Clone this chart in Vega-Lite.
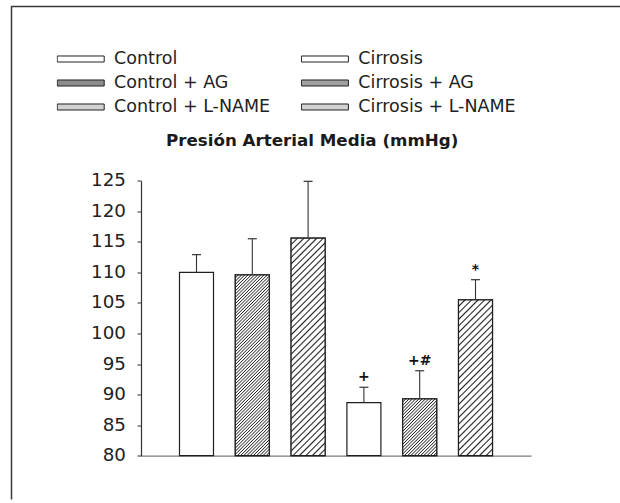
{
  "$schema": "https://vega.github.io/schema/vega-lite/v6.json",
  "autosize": {"type": "none"},
  "padding": {"left": 11.5, "top": 6.5, "right": 0, "bottom": 0},
  "width": 608.5,
  "height": 493,
  "background": "white",
  "title": {
    "text": "Presión Arterial Media (mmHg)",
    "anchor": "start",
    "frame": "group",
    "dx": 154.5,
    "offset": -156,
    "baseline": "alphabetic",
    "font": "DejaVu Sans",
    "fontSize": 16.7,
    "fontWeight": "bold",
    "color": "#1a1a1a"
  },
  "config": {
    "view": {"stroke": "#3a3a3a", "strokeWidth": 1.5, "strokeDash": [608.5, 1101.5, 493, 10]},
    "font": "DejaVu Sans"
  },
  "data": {
    "values": [
      {"grupo": "Control", "media": 110.0, "superior": 112.9, "sig": ""},
      {"grupo": "Control + AG", "media": 109.6, "superior": 115.5, "sig": ""},
      {"grupo": "Control + L-NAME", "media": 115.6, "superior": 124.9, "sig": ""},
      {"grupo": "Cirrosis", "media": 88.7, "superior": 91.2, "sig": "+"},
      {"grupo": "Cirrosis + AG", "media": 89.3, "superior": 93.9, "sig": "+#"},
      {"grupo": "Cirrosis + L-NAME", "media": 105.5, "superior": 108.8, "sig": "*"}
    ]
  },
  "encoding": {
    "x": {
      "field": "grupo",
      "type": "nominal",
      "sort": ["Control", "Control + AG", "Control + L-NAME", "Cirrosis", "Cirrosis + AG", "Cirrosis + L-NAME"],
      "scale": {"range": [129.5, 519.5], "paddingInner": 0.3907, "paddingOuter": 0.69, "align": 0.5},
      "axis": {
        "orient": "bottom",
        "offset": -43.8,
        "title": null,
        "labels": false,
        "ticks": false,
        "grid": false,
        "domainColor": "#7a7a7a",
        "domainWidth": 1.2
      }
    }
  },
  "layer": [
    {
      "mark": {"type": "bar", "stroke": "#1f1f1f", "strokeWidth": 1.2},
      "encoding": {
        "y": {
          "field": "media",
          "type": "quantitative",
          "scale": {"domain": [80, 125], "range": [449.2, 174.2], "nice": false, "zero": false},
          "axis": {
            "orient": "left",
            "offset": -129.5,
            "title": null,
            "grid": false,
            "values": [80, 85, 90, 95, 100, 105, 110, 115, 120, 125],
            "domainColor": "#333333",
            "domainWidth": 1.2,
            "tickColor": "#333333",
            "tickSize": 4,
            "tickWidth": 1,
            "labelFont": "DejaVu Sans",
            "labelFontSize": 18.3,
            "labelColor": "#222222",
            "labelPadding": 11.5
          }
        },
        "y2": {"datum": 80},
        "fill": {
          "field": "grupo",
          "type": "nominal",
          "scale": {
            "domain": ["Control", "Control + AG", "Control + L-NAME", "Cirrosis", "Cirrosis + AG", "Cirrosis + L-NAME"],
            "range": ["#ffffff", "#8c8c8c", "#d2d2d2", "#ffffff", "#a0a0a0", "#d2d2d2"]
          },
          "legend": {
            "orient": "none",
            "legendX": 45.2,
            "legendY": 40.5,
            "columns": 2,
            "title": null,
            "symbolType": "M-1,-0.128L1,-0.128L1,0.128L-1,0.128Z",
            "symbolSize": 2209,
            "symbolStrokeColor": "#222222",
            "symbolStrokeWidth": 1,
            "symbolOpacity": 1,
            "labelFont": "DejaVu Sans",
            "labelFontSize": 17.5,
            "labelColor": "#222222",
            "labelOffset": 9.4,
            "labelLimit": 400,
            "columnPadding": 30.2,
            "rowPadding": 0,
            "clipHeight": 24,
            "padding": 0,
            "encode": {
              "symbols": {
                "update": {
                  "opacity": {"value": 1},
                  "fillOpacity": {"value": 1},
                  "strokeOpacity": {"value": 1},
                  "stroke": {"value": "#222222"},
                  "strokeWidth": {"value": 1}
                }
              }
            }
          }
        }
      }
    },
    {
      "transform": [{"filter": "datum.grupo === 'Control + AG'"}],
      "mark": {"type": "bar", "stroke": "#1f1f1f", "strokeWidth": 1.2,
        "fill": {"gradient": "linear", "x1": 0, "y1": 0, "x2": 0.2157, "y2": 1.1474, "stops": [
          {"offset":0,"color":"#222"},{"offset":0.005,"color":"#fff"},
          {"offset":0.0099,"color":"#fff"},{"offset":0.0149,"color":"#222"},{"offset":0.0199,"color":"#fff"},
          {"offset":0.0249,"color":"#fff"},{"offset":0.0299,"color":"#222"},{"offset":0.0349,"color":"#fff"},
          {"offset":0.0398,"color":"#fff"},{"offset":0.0448,"color":"#222"},{"offset":0.0498,"color":"#fff"},
          {"offset":0.0547,"color":"#fff"},{"offset":0.0597,"color":"#222"},{"offset":0.0647,"color":"#fff"},
          {"offset":0.0696,"color":"#fff"},{"offset":0.0746,"color":"#222"},{"offset":0.0796,"color":"#fff"},
          {"offset":0.0846,"color":"#fff"},{"offset":0.0896,"color":"#222"},{"offset":0.0946,"color":"#fff"},
          {"offset":0.0995,"color":"#fff"},{"offset":0.1045,"color":"#222"},{"offset":0.1095,"color":"#fff"},
          {"offset":0.1144,"color":"#fff"},{"offset":0.1194,"color":"#222"},{"offset":0.1244,"color":"#fff"},
          {"offset":0.1293,"color":"#fff"},{"offset":0.1343,"color":"#222"},{"offset":0.1393,"color":"#fff"},
          {"offset":0.1443,"color":"#fff"},{"offset":0.1493,"color":"#222"},{"offset":0.1543,"color":"#fff"},
          {"offset":0.1592,"color":"#fff"},{"offset":0.1642,"color":"#222"},{"offset":0.1692,"color":"#fff"},
          {"offset":0.1741,"color":"#fff"},{"offset":0.1791,"color":"#222"},{"offset":0.1841,"color":"#fff"},
          {"offset":0.1890,"color":"#fff"},{"offset":0.1940,"color":"#222"},{"offset":0.1990,"color":"#fff"},
          {"offset":0.2040,"color":"#fff"},{"offset":0.2090,"color":"#222"},{"offset":0.2140,"color":"#fff"},
          {"offset":0.2189,"color":"#fff"},{"offset":0.2239,"color":"#222"},{"offset":0.2289,"color":"#fff"},
          {"offset":0.2338,"color":"#fff"},{"offset":0.2388,"color":"#222"},{"offset":0.2438,"color":"#fff"},
          {"offset":0.2487,"color":"#fff"},{"offset":0.2537,"color":"#222"},{"offset":0.2587,"color":"#fff"},
          {"offset":0.2637,"color":"#fff"},{"offset":0.2687,"color":"#222"},{"offset":0.2737,"color":"#fff"},
          {"offset":0.2786,"color":"#fff"},{"offset":0.2836,"color":"#222"},{"offset":0.2886,"color":"#fff"},
          {"offset":0.2935,"color":"#fff"},{"offset":0.2985,"color":"#222"},{"offset":0.3035,"color":"#fff"},
          {"offset":0.3084,"color":"#fff"},{"offset":0.3134,"color":"#222"},{"offset":0.3184,"color":"#fff"},
          {"offset":0.3234,"color":"#fff"},{"offset":0.3284,"color":"#222"},{"offset":0.3334,"color":"#fff"},
          {"offset":0.3383,"color":"#fff"},{"offset":0.3433,"color":"#222"},{"offset":0.3483,"color":"#fff"},
          {"offset":0.3532,"color":"#fff"},{"offset":0.3582,"color":"#222"},{"offset":0.3632,"color":"#fff"},
          {"offset":0.3681,"color":"#fff"},{"offset":0.3731,"color":"#222"},{"offset":0.3781,"color":"#fff"},
          {"offset":0.3831,"color":"#fff"},{"offset":0.3881,"color":"#222"},{"offset":0.3931,"color":"#fff"},
          {"offset":0.3980,"color":"#fff"},{"offset":0.4030,"color":"#222"},{"offset":0.4080,"color":"#fff"},
          {"offset":0.4129,"color":"#fff"},{"offset":0.4179,"color":"#222"},{"offset":0.4229,"color":"#fff"},
          {"offset":0.4278,"color":"#fff"},{"offset":0.4328,"color":"#222"},{"offset":0.4378,"color":"#fff"},
          {"offset":0.4428,"color":"#fff"},{"offset":0.4478,"color":"#222"},{"offset":0.4528,"color":"#fff"},
          {"offset":0.4577,"color":"#fff"},{"offset":0.4627,"color":"#222"},{"offset":0.4677,"color":"#fff"},
          {"offset":0.4726,"color":"#fff"},{"offset":0.4776,"color":"#222"},{"offset":0.4826,"color":"#fff"},
          {"offset":0.4875,"color":"#fff"},{"offset":0.4925,"color":"#222"},{"offset":0.4975,"color":"#fff"},
          {"offset":0.5025,"color":"#fff"},{"offset":0.5075,"color":"#222"},{"offset":0.5125,"color":"#fff"},
          {"offset":0.5174,"color":"#fff"},{"offset":0.5224,"color":"#222"},{"offset":0.5274,"color":"#fff"},
          {"offset":0.5323,"color":"#fff"},{"offset":0.5373,"color":"#222"},{"offset":0.5423,"color":"#fff"},
          {"offset":0.5472,"color":"#fff"},{"offset":0.5522,"color":"#222"},{"offset":0.5572,"color":"#fff"},
          {"offset":0.5622,"color":"#fff"},{"offset":0.5672,"color":"#222"},{"offset":0.5722,"color":"#fff"},
          {"offset":0.5771,"color":"#fff"},{"offset":0.5821,"color":"#222"},{"offset":0.5871,"color":"#fff"},
          {"offset":0.5920,"color":"#fff"},{"offset":0.5970,"color":"#222"},{"offset":0.6020,"color":"#fff"},
          {"offset":0.6069,"color":"#fff"},{"offset":0.6119,"color":"#222"},{"offset":0.6169,"color":"#fff"},
          {"offset":0.6219,"color":"#fff"},{"offset":0.6269,"color":"#222"},{"offset":0.6319,"color":"#fff"},
          {"offset":0.6368,"color":"#fff"},{"offset":0.6418,"color":"#222"},{"offset":0.6468,"color":"#fff"},
          {"offset":0.6517,"color":"#fff"},{"offset":0.6567,"color":"#222"},{"offset":0.6617,"color":"#fff"},
          {"offset":0.6666,"color":"#fff"},{"offset":0.6716,"color":"#222"},{"offset":0.6766,"color":"#fff"},
          {"offset":0.6816,"color":"#fff"},{"offset":0.6866,"color":"#222"},{"offset":0.6916,"color":"#fff"},
          {"offset":0.6965,"color":"#fff"},{"offset":0.7015,"color":"#222"},{"offset":0.7065,"color":"#fff"},
          {"offset":0.7114,"color":"#fff"},{"offset":0.7164,"color":"#222"},{"offset":0.7214,"color":"#fff"},
          {"offset":0.7263,"color":"#fff"},{"offset":0.7313,"color":"#222"},{"offset":0.7363,"color":"#fff"},
          {"offset":0.7413,"color":"#fff"},{"offset":0.7463,"color":"#222"},{"offset":0.7513,"color":"#fff"},
          {"offset":0.7562,"color":"#fff"},{"offset":0.7612,"color":"#222"},{"offset":0.7662,"color":"#fff"},
          {"offset":0.7711,"color":"#fff"},{"offset":0.7761,"color":"#222"},{"offset":0.7811,"color":"#fff"},
          {"offset":0.7860,"color":"#fff"},{"offset":0.7910,"color":"#222"},{"offset":0.7960,"color":"#fff"},
          {"offset":0.8010,"color":"#fff"},{"offset":0.8060,"color":"#222"},{"offset":0.8110,"color":"#fff"},
          {"offset":0.8159,"color":"#fff"},{"offset":0.8209,"color":"#222"},{"offset":0.8259,"color":"#fff"},
          {"offset":0.8308,"color":"#fff"},{"offset":0.8358,"color":"#222"},{"offset":0.8408,"color":"#fff"},
          {"offset":0.8457,"color":"#fff"},{"offset":0.8507,"color":"#222"},{"offset":0.8557,"color":"#fff"},
          {"offset":0.8607,"color":"#fff"},{"offset":0.8657,"color":"#222"},{"offset":0.8707,"color":"#fff"},
          {"offset":0.8756,"color":"#fff"},{"offset":0.8806,"color":"#222"},{"offset":0.8856,"color":"#fff"},
          {"offset":0.8905,"color":"#fff"},{"offset":0.8955,"color":"#222"},{"offset":0.9005,"color":"#fff"},
          {"offset":0.9054,"color":"#fff"},{"offset":0.9104,"color":"#222"},{"offset":0.9154,"color":"#fff"},
          {"offset":0.9204,"color":"#fff"},{"offset":0.9254,"color":"#222"},{"offset":0.9304,"color":"#fff"},
          {"offset":0.9353,"color":"#fff"},{"offset":0.9403,"color":"#222"},{"offset":0.9453,"color":"#fff"},
          {"offset":0.9502,"color":"#fff"},{"offset":0.9552,"color":"#222"},{"offset":0.9602,"color":"#fff"},
          {"offset":0.9651,"color":"#fff"},{"offset":0.9701,"color":"#222"},{"offset":0.9751,"color":"#fff"},
          {"offset":0.9801,"color":"#fff"},{"offset":0.9851,"color":"#222"},{"offset":0.9901,"color":"#fff"},
          {"offset":0.995,"color":"#fff"},{"offset":1,"color":"#222"}
        ]}},
      "encoding": {
        "y": {"field": "media", "type": "quantitative"},
        "y2": {"datum": 80}
      }
    },
    {
      "transform": [{"filter": "datum.grupo === 'Control + L-NAME'"}],
      "mark": {"type": "bar", "stroke": "#1f1f1f", "strokeWidth": 1.2,
        "fill": {"gradient": "linear", "x1": 0, "y1": 0, "x2": 0.1764, "y2": 1.1287, "stops": [
          {"offset":0,"color":"#222"},{"offset":0.006,"color":"#fff"},
          {"offset":0.0196,"color":"#fff"},{"offset":0.0256,"color":"#222"},{"offset":0.0316,"color":"#fff"},
          {"offset":0.0453,"color":"#fff"},{"offset":0.0513,"color":"#222"},{"offset":0.0573,"color":"#fff"},
          {"offset":0.0709,"color":"#fff"},{"offset":0.0769,"color":"#222"},{"offset":0.0829,"color":"#fff"},
          {"offset":0.0966,"color":"#fff"},{"offset":0.1026,"color":"#222"},{"offset":0.1086,"color":"#fff"},
          {"offset":0.1222,"color":"#fff"},{"offset":0.1282,"color":"#222"},{"offset":0.1342,"color":"#fff"},
          {"offset":0.1478,"color":"#fff"},{"offset":0.1538,"color":"#222"},{"offset":0.1598,"color":"#fff"},
          {"offset":0.1735,"color":"#fff"},{"offset":0.1795,"color":"#222"},{"offset":0.1855,"color":"#fff"},
          {"offset":0.1991,"color":"#fff"},{"offset":0.2051,"color":"#222"},{"offset":0.2111,"color":"#fff"},
          {"offset":0.2248,"color":"#fff"},{"offset":0.2308,"color":"#222"},{"offset":0.2368,"color":"#fff"},
          {"offset":0.2504,"color":"#fff"},{"offset":0.2564,"color":"#222"},{"offset":0.2624,"color":"#fff"},
          {"offset":0.2761,"color":"#fff"},{"offset":0.2821,"color":"#222"},{"offset":0.2881,"color":"#fff"},
          {"offset":0.3017,"color":"#fff"},{"offset":0.3077,"color":"#222"},{"offset":0.3137,"color":"#fff"},
          {"offset":0.3273,"color":"#fff"},{"offset":0.3333,"color":"#222"},{"offset":0.3393,"color":"#fff"},
          {"offset":0.3530,"color":"#fff"},{"offset":0.3590,"color":"#222"},{"offset":0.3650,"color":"#fff"},
          {"offset":0.3786,"color":"#fff"},{"offset":0.3846,"color":"#222"},{"offset":0.3906,"color":"#fff"},
          {"offset":0.4043,"color":"#fff"},{"offset":0.4103,"color":"#222"},{"offset":0.4163,"color":"#fff"},
          {"offset":0.4299,"color":"#fff"},{"offset":0.4359,"color":"#222"},{"offset":0.4419,"color":"#fff"},
          {"offset":0.4555,"color":"#fff"},{"offset":0.4615,"color":"#222"},{"offset":0.4675,"color":"#fff"},
          {"offset":0.4812,"color":"#fff"},{"offset":0.4872,"color":"#222"},{"offset":0.4932,"color":"#fff"},
          {"offset":0.5068,"color":"#fff"},{"offset":0.5128,"color":"#222"},{"offset":0.5188,"color":"#fff"},
          {"offset":0.5325,"color":"#fff"},{"offset":0.5385,"color":"#222"},{"offset":0.5445,"color":"#fff"},
          {"offset":0.5581,"color":"#fff"},{"offset":0.5641,"color":"#222"},{"offset":0.5701,"color":"#fff"},
          {"offset":0.5837,"color":"#fff"},{"offset":0.5897,"color":"#222"},{"offset":0.5957,"color":"#fff"},
          {"offset":0.6094,"color":"#fff"},{"offset":0.6154,"color":"#222"},{"offset":0.6214,"color":"#fff"},
          {"offset":0.6350,"color":"#fff"},{"offset":0.6410,"color":"#222"},{"offset":0.6470,"color":"#fff"},
          {"offset":0.6607,"color":"#fff"},{"offset":0.6667,"color":"#222"},{"offset":0.6727,"color":"#fff"},
          {"offset":0.6863,"color":"#fff"},{"offset":0.6923,"color":"#222"},{"offset":0.6983,"color":"#fff"},
          {"offset":0.7119,"color":"#fff"},{"offset":0.7179,"color":"#222"},{"offset":0.7239,"color":"#fff"},
          {"offset":0.7376,"color":"#fff"},{"offset":0.7436,"color":"#222"},{"offset":0.7496,"color":"#fff"},
          {"offset":0.7632,"color":"#fff"},{"offset":0.7692,"color":"#222"},{"offset":0.7752,"color":"#fff"},
          {"offset":0.7889,"color":"#fff"},{"offset":0.7949,"color":"#222"},{"offset":0.8009,"color":"#fff"},
          {"offset":0.8145,"color":"#fff"},{"offset":0.8205,"color":"#222"},{"offset":0.8265,"color":"#fff"},
          {"offset":0.8402,"color":"#fff"},{"offset":0.8462,"color":"#222"},{"offset":0.8522,"color":"#fff"},
          {"offset":0.8658,"color":"#fff"},{"offset":0.8718,"color":"#222"},{"offset":0.8778,"color":"#fff"},
          {"offset":0.8914,"color":"#fff"},{"offset":0.8974,"color":"#222"},{"offset":0.9034,"color":"#fff"},
          {"offset":0.9171,"color":"#fff"},{"offset":0.9231,"color":"#222"},{"offset":0.9291,"color":"#fff"},
          {"offset":0.9427,"color":"#fff"},{"offset":0.9487,"color":"#222"},{"offset":0.9547,"color":"#fff"},
          {"offset":0.9684,"color":"#fff"},{"offset":0.9744,"color":"#222"},{"offset":0.9804,"color":"#fff"},
          {"offset":0.994,"color":"#fff"},{"offset":1,"color":"#222"}
        ]}},
      "encoding": {
        "y": {"field": "media", "type": "quantitative"},
        "y2": {"datum": 80}
      }
    },
    {
      "transform": [{"filter": "datum.grupo === 'Cirrosis + AG'"}],
      "mark": {"type": "bar", "stroke": "#1f1f1f", "strokeWidth": 1.2,
        "fill": {"gradient": "linear", "x1": 0, "y1": 0, "x2": 0.7041, "y2": 1.1769, "stops": [
          {"offset":0,"color":"#222"},{"offset":0.012,"color":"#fff"},
          {"offset":0.0237,"color":"#fff"},{"offset":0.0357,"color":"#222"},{"offset":0.0477,"color":"#fff"},
          {"offset":0.0594,"color":"#fff"},{"offset":0.0714,"color":"#222"},{"offset":0.0834,"color":"#fff"},
          {"offset":0.0951,"color":"#fff"},{"offset":0.1071,"color":"#222"},{"offset":0.1191,"color":"#fff"},
          {"offset":0.1309,"color":"#fff"},{"offset":0.1429,"color":"#222"},{"offset":0.1549,"color":"#fff"},
          {"offset":0.1666,"color":"#fff"},{"offset":0.1786,"color":"#222"},{"offset":0.1906,"color":"#fff"},
          {"offset":0.2023,"color":"#fff"},{"offset":0.2143,"color":"#222"},{"offset":0.2263,"color":"#fff"},
          {"offset":0.2380,"color":"#fff"},{"offset":0.2500,"color":"#222"},{"offset":0.2620,"color":"#fff"},
          {"offset":0.2737,"color":"#fff"},{"offset":0.2857,"color":"#222"},{"offset":0.2977,"color":"#fff"},
          {"offset":0.3094,"color":"#fff"},{"offset":0.3214,"color":"#222"},{"offset":0.3334,"color":"#fff"},
          {"offset":0.3451,"color":"#fff"},{"offset":0.3571,"color":"#222"},{"offset":0.3691,"color":"#fff"},
          {"offset":0.3809,"color":"#fff"},{"offset":0.3929,"color":"#222"},{"offset":0.4049,"color":"#fff"},
          {"offset":0.4166,"color":"#fff"},{"offset":0.4286,"color":"#222"},{"offset":0.4406,"color":"#fff"},
          {"offset":0.4523,"color":"#fff"},{"offset":0.4643,"color":"#222"},{"offset":0.4763,"color":"#fff"},
          {"offset":0.4880,"color":"#fff"},{"offset":0.5000,"color":"#222"},{"offset":0.5120,"color":"#fff"},
          {"offset":0.5237,"color":"#fff"},{"offset":0.5357,"color":"#222"},{"offset":0.5477,"color":"#fff"},
          {"offset":0.5594,"color":"#fff"},{"offset":0.5714,"color":"#222"},{"offset":0.5834,"color":"#fff"},
          {"offset":0.5951,"color":"#fff"},{"offset":0.6071,"color":"#222"},{"offset":0.6191,"color":"#fff"},
          {"offset":0.6309,"color":"#fff"},{"offset":0.6429,"color":"#222"},{"offset":0.6549,"color":"#fff"},
          {"offset":0.6666,"color":"#fff"},{"offset":0.6786,"color":"#222"},{"offset":0.6906,"color":"#fff"},
          {"offset":0.7023,"color":"#fff"},{"offset":0.7143,"color":"#222"},{"offset":0.7263,"color":"#fff"},
          {"offset":0.7380,"color":"#fff"},{"offset":0.7500,"color":"#222"},{"offset":0.7620,"color":"#fff"},
          {"offset":0.7737,"color":"#fff"},{"offset":0.7857,"color":"#222"},{"offset":0.7977,"color":"#fff"},
          {"offset":0.8094,"color":"#fff"},{"offset":0.8214,"color":"#222"},{"offset":0.8334,"color":"#fff"},
          {"offset":0.8451,"color":"#fff"},{"offset":0.8571,"color":"#222"},{"offset":0.8691,"color":"#fff"},
          {"offset":0.8809,"color":"#fff"},{"offset":0.8929,"color":"#222"},{"offset":0.9049,"color":"#fff"},
          {"offset":0.9166,"color":"#fff"},{"offset":0.9286,"color":"#222"},{"offset":0.9406,"color":"#fff"},
          {"offset":0.9523,"color":"#fff"},{"offset":0.9643,"color":"#222"},{"offset":0.9763,"color":"#fff"},
          {"offset":0.988,"color":"#fff"},{"offset":1,"color":"#222"}
        ]}},
      "encoding": {
        "y": {"field": "media", "type": "quantitative"},
        "y2": {"datum": 80}
      }
    },
    {
      "transform": [{"filter": "datum.grupo === 'Cirrosis + L-NAME'"}],
      "mark": {"type": "bar", "stroke": "#1f1f1f", "strokeWidth": 1.2,
        "fill": {"gradient": "linear", "x1": 0, "y1": 0, "x2": 0.2537, "y2": 1.1628, "stops": [
          {"offset":0,"color":"#222"},{"offset":0.008,"color":"#fff"},
          {"offset":0.0265,"color":"#fff"},{"offset":0.0345,"color":"#222"},{"offset":0.0425,"color":"#fff"},
          {"offset":0.0610,"color":"#fff"},{"offset":0.0690,"color":"#222"},{"offset":0.0770,"color":"#fff"},
          {"offset":0.0954,"color":"#fff"},{"offset":0.1034,"color":"#222"},{"offset":0.1114,"color":"#fff"},
          {"offset":0.1299,"color":"#fff"},{"offset":0.1379,"color":"#222"},{"offset":0.1459,"color":"#fff"},
          {"offset":0.1644,"color":"#fff"},{"offset":0.1724,"color":"#222"},{"offset":0.1804,"color":"#fff"},
          {"offset":0.1989,"color":"#fff"},{"offset":0.2069,"color":"#222"},{"offset":0.2149,"color":"#fff"},
          {"offset":0.2334,"color":"#fff"},{"offset":0.2414,"color":"#222"},{"offset":0.2494,"color":"#fff"},
          {"offset":0.2679,"color":"#fff"},{"offset":0.2759,"color":"#222"},{"offset":0.2839,"color":"#fff"},
          {"offset":0.3023,"color":"#fff"},{"offset":0.3103,"color":"#222"},{"offset":0.3183,"color":"#fff"},
          {"offset":0.3368,"color":"#fff"},{"offset":0.3448,"color":"#222"},{"offset":0.3528,"color":"#fff"},
          {"offset":0.3713,"color":"#fff"},{"offset":0.3793,"color":"#222"},{"offset":0.3873,"color":"#fff"},
          {"offset":0.4058,"color":"#fff"},{"offset":0.4138,"color":"#222"},{"offset":0.4218,"color":"#fff"},
          {"offset":0.4403,"color":"#fff"},{"offset":0.4483,"color":"#222"},{"offset":0.4563,"color":"#fff"},
          {"offset":0.4748,"color":"#fff"},{"offset":0.4828,"color":"#222"},{"offset":0.4908,"color":"#fff"},
          {"offset":0.5092,"color":"#fff"},{"offset":0.5172,"color":"#222"},{"offset":0.5252,"color":"#fff"},
          {"offset":0.5437,"color":"#fff"},{"offset":0.5517,"color":"#222"},{"offset":0.5597,"color":"#fff"},
          {"offset":0.5782,"color":"#fff"},{"offset":0.5862,"color":"#222"},{"offset":0.5942,"color":"#fff"},
          {"offset":0.6127,"color":"#fff"},{"offset":0.6207,"color":"#222"},{"offset":0.6287,"color":"#fff"},
          {"offset":0.6472,"color":"#fff"},{"offset":0.6552,"color":"#222"},{"offset":0.6632,"color":"#fff"},
          {"offset":0.6817,"color":"#fff"},{"offset":0.6897,"color":"#222"},{"offset":0.6977,"color":"#fff"},
          {"offset":0.7161,"color":"#fff"},{"offset":0.7241,"color":"#222"},{"offset":0.7321,"color":"#fff"},
          {"offset":0.7506,"color":"#fff"},{"offset":0.7586,"color":"#222"},{"offset":0.7666,"color":"#fff"},
          {"offset":0.7851,"color":"#fff"},{"offset":0.7931,"color":"#222"},{"offset":0.8011,"color":"#fff"},
          {"offset":0.8196,"color":"#fff"},{"offset":0.8276,"color":"#222"},{"offset":0.8356,"color":"#fff"},
          {"offset":0.8541,"color":"#fff"},{"offset":0.8621,"color":"#222"},{"offset":0.8701,"color":"#fff"},
          {"offset":0.8886,"color":"#fff"},{"offset":0.8966,"color":"#222"},{"offset":0.9046,"color":"#fff"},
          {"offset":0.9230,"color":"#fff"},{"offset":0.9310,"color":"#222"},{"offset":0.9390,"color":"#fff"},
          {"offset":0.9575,"color":"#fff"},{"offset":0.9655,"color":"#222"},{"offset":0.9735,"color":"#fff"},
          {"offset":0.992,"color":"#fff"},{"offset":1,"color":"#222"}
        ]}},
      "encoding": {
        "y": {"field": "media", "type": "quantitative"},
        "y2": {"datum": 80}
      }
    },
    {
      "mark": {"type": "rule", "color": "#333333", "strokeWidth": 1.1},
      "encoding": {
        "y": {"field": "media", "type": "quantitative"},
        "y2": {"field": "superior"}
      }
    },
    {
      "mark": {"type": "tick", "size": 9, "thickness": 1.2, "color": "#333333", "opacity": 1},
      "encoding": {
        "y": {"field": "superior", "type": "quantitative"}
      }
    },
    {
      "mark": {"type": "text", "baseline": "alphabetic", "dy": -6, "font": "DejaVu Sans", "fontWeight": "bold", "fontSize": 14, "color": "#111111"},
      "encoding": {
        "y": {"field": "superior", "type": "quantitative"},
        "text": {"field": "sig"}
      }
    }
  ]
}
